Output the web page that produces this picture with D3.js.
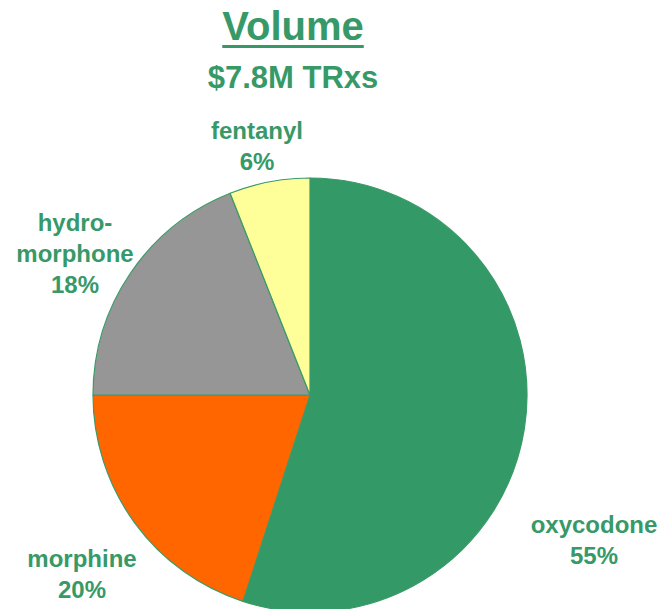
<!DOCTYPE html>
<html>
<head>
<meta charset="utf-8">
<script src="https://cdn.jsdelivr.net/npm/d3@7"></script>
<style>
  html, body { margin: 0; padding: 0; background: #ffffff; }
  svg { display: block; }
  text { font-family: "Liberation Sans", Arial, sans-serif; font-weight: bold; }
</style>
</head>
<body>
<svg id="chart" width="664" height="609"></svg>
<script>
// ---- data ----
const categories = ["oxycodone", "morphine", "hydromorphone", "fentanyl"];
const shares = [55, 20, 19, 6];            // slice sizes
const pctLabels = ["55%", "20%", "18%", "6%"]; // printed labels
const colors = ["#339966", "#ff6600", "#969696", "#ffff99"];
const title = "Volume";
const subtitle = "$7.8M TRxs";

// ---- layout ----
const svg = d3.select("#chart");
const W = 664, H = 609;
const cx = 310, cy = 395, R = 217;
const textColor = "#379968";

svg.append("rect").attr("width", W).attr("height", H).attr("fill", "#fff");

const pie = d3.pie().sort(null).value(d => d.v);
const arc = d3.arc().innerRadius(0).outerRadius(R);
const data = categories.map((c, i) => ({ name: c, v: shares[i], color: colors[i], pct: pctLabels[i] }));

const g = svg.append("g").attr("transform", `translate(${cx},${cy})`);
g.selectAll("path.slice")
  .data(pie(data))
  .join("path")
  .attr("class", "slice")
  .attr("d", arc)
  .attr("fill", d => d.data.color)
  .attr("stroke", "#3a9a68")
  .attr("stroke-width", 1.2)
  .attr("stroke-linejoin", "round");

// ---- titles ----
const t1 = svg.append("text")
  .attr("x", 293).attr("y", 40)
  .attr("text-anchor", "middle")
  .attr("font-size", 40)
  .attr("fill", textColor)
  .text(title);
const bb = t1.node().getBBox();
svg.append("rect")
  .attr("x", bb.x).attr("y", 45)
  .attr("width", bb.width).attr("height", 3)
  .attr("fill", textColor);

svg.append("text")
  .attr("x", 293).attr("y", 88)
  .attr("text-anchor", "middle")
  .attr("font-size", 31)
  .attr("fill", textColor)
  .text(subtitle);

// ---- slice labels (placed outside the pie as in the reference) ----
const labelSpots = {
  oxycodone:     { x: 594, y: 533, lines: ["oxycodone"] },
  morphine:      { x: 82,  y: 567, lines: ["morphine"] },
  hydromorphone: { x: 75,  y: 231, lines: ["hydro-", "morphone"] },
  fentanyl:      { x: 257, y: 139, lines: ["fentanyl"] }
};
const lineGap = 31;
data.forEach(d => {
  const s = labelSpots[d.name];
  const lines = s.lines.concat([d.pct]);
  const t = svg.append("text")
    .attr("text-anchor", "middle")
    .attr("font-size", 24)
    .attr("fill", textColor);
  lines.forEach((ln, i) => {
    t.append("tspan").attr("x", s.x).attr("y", s.y + i * lineGap).text(ln);
  });
});
</script>
</body>
</html>
